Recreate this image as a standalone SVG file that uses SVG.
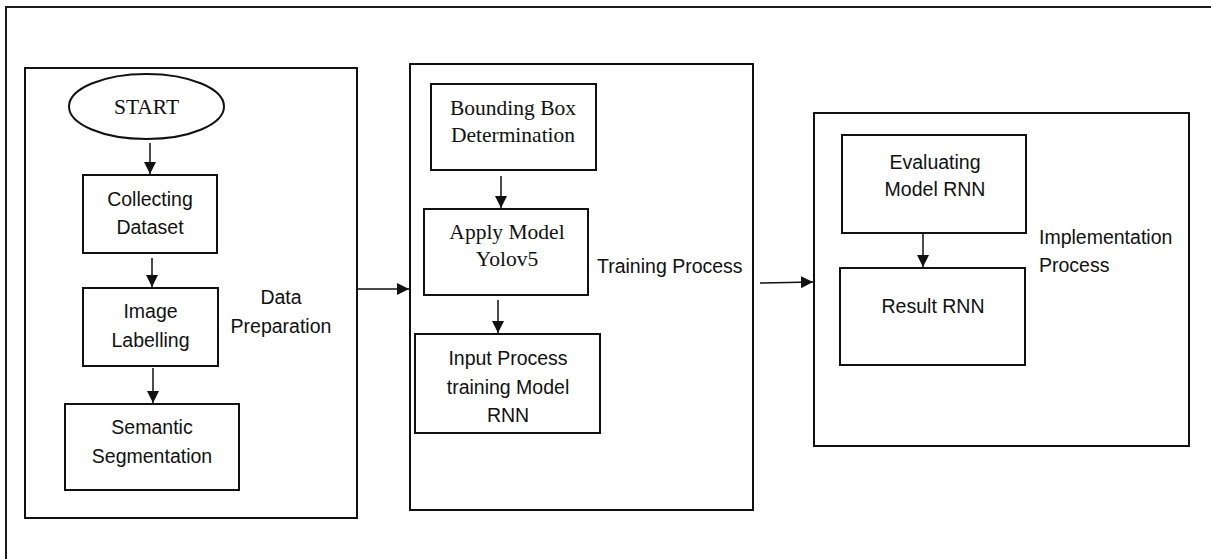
<svg xmlns="http://www.w3.org/2000/svg" width="1211" height="559" viewBox="0 0 1211 559">
<style>
.frame{fill:none;stroke:#1a1a1a;stroke-width:2}
.box{fill:#fff;stroke:#111;stroke-width:2}
.con{fill:none;stroke:#111;stroke-width:1.5}
.sans{font-family:"Liberation Sans",Arial,sans-serif;font-size:19.5px;fill:#111;text-anchor:middle}
.serif{font-family:"Liberation Serif","Times New Roman",serif;font-size:21.5px;fill:#111;text-anchor:middle}
.lbl{font-family:"Liberation Sans",Arial,sans-serif;font-size:19.5px;fill:#111}
</style>
<defs>
<marker id="ah" markerUnits="userSpaceOnUse" markerWidth="13" markerHeight="12" refX="12" refY="6" orient="auto">
<path d="M0,0 L12,6 L0,12 z" fill="#111"/>
</marker>
</defs>
<rect width="1211" height="559" fill="#fff"/>
<rect class="frame" x="6" y="7" width="1230" height="600"/>

<g id="data-preparation">
<rect class="box" x="25" y="68" width="332" height="450"/>
<text class="lbl" x="281" y="304" text-anchor="middle">Data</text>
<text class="lbl" x="281" y="333" text-anchor="middle">Preparation</text>
</g>
<g id="start">
<ellipse class="box" cx="146.5" cy="106.5" rx="77.5" ry="32.5"/>
<text class="serif" x="146.5" y="114" font-size="21px">START</text>
</g>
<g id="collecting-dataset">
<rect class="box" x="83" y="175" width="134" height="78"/>
<text class="sans" x="150" y="206">Collecting</text>
<text class="sans" x="150" y="234">Dataset</text>
</g>
<g id="image-labelling">
<rect class="box" x="83" y="288" width="135" height="78"/>
<text class="sans" x="150.5" y="318">Image</text>
<text class="sans" x="150.5" y="347">Labelling</text>
</g>
<g id="semantic-segmentation">
<rect class="box" x="65" y="404" width="174" height="86"/>
<text class="sans" x="152" y="434">Semantic</text>
<text class="sans" x="152" y="463">Segmentation</text>
</g>

<g id="training-process">
<rect class="box" x="410" y="64" width="343" height="446"/>
<text class="lbl" x="597" y="273">Training Process</text>
</g>
<g id="bounding-box">
<rect class="box" x="431" y="84" width="165" height="86"/>
<text class="serif" x="513" y="115">Bounding Box</text>
<text class="serif" x="513" y="142">Determination</text>
</g>
<g id="apply-yolov5">
<rect class="box" x="424" y="209" width="164" height="86"/>
<text class="serif" x="507" y="239">Apply Model</text>
<text class="serif" x="507" y="266">Yolov5</text>
</g>
<g id="input-process">
<rect class="box" x="415" y="334" width="185" height="99"/>
<text class="sans" x="508" y="365">Input Process</text>
<text class="sans" x="508" y="394">training Model</text>
<text class="sans" x="508" y="422">RNN</text>
</g>

<g id="implementation-process">
<rect class="box" x="814" y="113" width="375" height="333"/>
<text class="lbl" x="1039" y="244">Implementation</text>
<text class="lbl" x="1039" y="272">Process</text>
</g>
<g id="evaluating-model">
<rect class="box" x="842" y="135" width="184" height="98"/>
<text class="sans" x="935" y="169">Evaluating</text>
<text class="sans" x="935" y="196">Model RNN</text>
</g>
<g id="result-rnn">
<rect class="box" x="840" y="268" width="185" height="97"/>
<text class="sans" x="933" y="313">Result RNN</text>
</g>

<g id="connectors">
<line class="con" x1="150" y1="143" x2="150" y2="174" marker-end="url(#ah)"/>
<line class="con" x1="152" y1="258" x2="152" y2="287" marker-end="url(#ah)"/>
<line class="con" x1="153" y1="368" x2="153" y2="403" marker-end="url(#ah)"/>
<line class="con" x1="357" y1="289" x2="409" y2="289" marker-end="url(#ah)"/>
<line class="con" x1="501" y1="176" x2="501" y2="208" marker-end="url(#ah)"/>
<line class="con" x1="498" y1="300" x2="498" y2="333" marker-end="url(#ah)"/>
<line class="con" x1="760" y1="283" x2="813" y2="282" marker-end="url(#ah)"/>
<line class="con" x1="923" y1="233" x2="923" y2="267" marker-end="url(#ah)"/>
</g>
</svg>
